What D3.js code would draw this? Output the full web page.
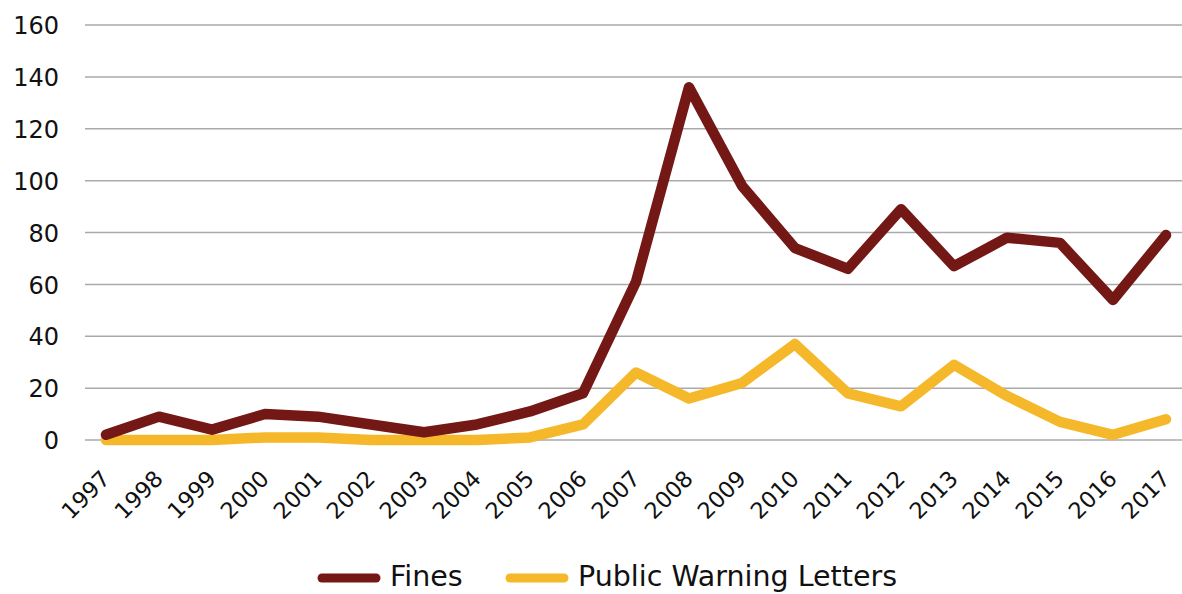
<!DOCTYPE html>
<html><head><meta charset="utf-8">
<script src="https://cdn.jsdelivr.net/npm/d3@7"></script>
<style>body{margin:0;background:#fff;}svg{display:block;font-family:"DejaVu Sans",sans-serif;}</style>
</head><body><svg id="c" width="1182" height="594"></svg>
<script>
const years = ["1997","1998","1999","2000","2001","2002","2003","2004","2005","2006","2007","2008","2009","2010","2011","2012","2013","2014","2015","2016","2017"];
const fines = [2,9,4,10,9,6,3,6,11,18,61,136,98,74,66,89,67,78,76,54,79];
const warnings = [0,0,0,1,1,0,0,0,1,6,26,16,22,37,18,13,29,17,7,2,8];
const yTicks = [0,20,40,60,80,100,120,140,160];
const seriesNames = ["Fines","Public Warning Letters"];
const colors = ["#741816","#F6B82B"];
const FONT = "DejaVu Sans, sans-serif";

const svg = d3.select("#c");
const x = d3.scalePoint().domain(years).range([106,1166]);
const y = d3.scaleLinear().domain([0,160]).range([440,25]);

// gridlines
svg.append("g").selectAll("line").data(yTicks).join("line")
  .attr("x1",85).attr("x2",1182).attr("y1",d=>y(d)).attr("y2",d=>y(d))
  .attr("stroke","#aaa").attr("stroke-width",1.5);

// y axis labels
const ya = svg.append("g").attr("transform","translate(59,0)")
  .call(d3.axisLeft(y).tickValues(yTicks).tickSize(0).tickPadding(0));
ya.select(".domain").remove();
ya.selectAll("text").attr("font-size",24).attr("fill","#111").attr("font-family",FONT).attr("dy","0.36em");

// x axis labels
const xa = svg.append("g").attr("transform","translate(0,440)")
  .call(d3.axisBottom(x).tickSize(0).tickPadding(0));
xa.select(".domain").remove();
xa.selectAll("text").attr("font-size",22.5).attr("fill","#111").attr("font-family",FONT)
  .attr("text-anchor","end").attr("dy","0").attr("y",0)
  .attr("transform","translate(5,40) rotate(-45)");

const line = d3.line().x((d,i)=>x(years[i])).y(d=>y(d));
[warnings, fines].forEach((s,k)=>{
  const ci = k===0?1:0;
  svg.append("path").datum(s).attr("d",line).attr("fill","none")
    .attr("stroke",colors[ci]).attr("stroke-width",10.5)
    .attr("stroke-linejoin","round").attr("stroke-linecap","round");
});

// legend
const leg = [{x:318,tx:390},{x:506,tx:578}];
seriesNames.forEach((n,i)=>{
  svg.append("line").attr("x1",leg[i].x+4).attr("x2",leg[i].x+58).attr("y1",578).attr("y2",578)
    .attr("stroke",colors[i]).attr("stroke-width",9).attr("stroke-linecap","round");
  svg.append("text").attr("x",leg[i].tx).attr("y",586).attr("font-size",28.5).attr("fill","#111")
    .attr("font-family",FONT).text(n);
});
</script></body></html>
